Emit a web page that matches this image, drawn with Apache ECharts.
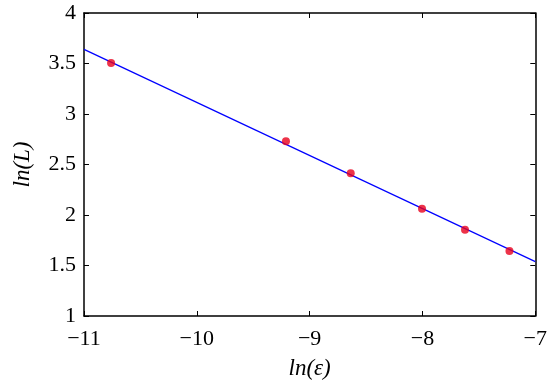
<!DOCTYPE html>
<html><head><meta charset="utf-8">
<script src="https://cdn.jsdelivr.net/npm/echarts@6/dist/echarts.min.js"></script>
<style>html,body{margin:0;padding:0;background:#fff}#c{width:550px;height:387px}</style>
</head><body><div id="c"></div>
<script>
const lnEps = [-10.76, -9.21, -8.636, -8.004, -7.623, -7.229];
const lnL = [3.505, 2.73, 2.413, 2.063, 1.855, 1.644];
const fitX = [-11, -7];
const fitY = [3.64, 1.538];

const chart = echarts.init(document.getElementById('c'));
const font = '"Liberation Serif", "Times New Roman", "DejaVu Serif", serif';
const axisCommon = {
  axisLine: {show: true, onZero: false, lineStyle: {color: '#000', width: 1.5}},
  axisTick: {show: true, inside: true, length: 5, lineStyle: {color: '#000', width: 1}},
  splitLine: {show: false}
};
chart.setOption({
  animation: false,
  textStyle: {fontFamily: font},
  grid: {left: 84, right: 12, top: 13, bottom: 71},
  xAxis: [
    Object.assign({type: 'value', min: -11, max: -7, interval: 1, position: 'bottom',
      name: 'ln(ε)', nameLocation: 'middle', nameGap: 41, nameMoveOverlap: false,
      nameTextStyle: {fontFamily: font, fontStyle: 'italic', fontSize: 23, color: '#000'},
      axisLabel: {fontFamily: font, fontSize: 22, color: '#000', margin: 12,
        formatter: v => (v < 0 ? '\u2212' + Math.abs(v) : String(v))}}, axisCommon),
    Object.assign({type: 'value', min: -11, max: -7, interval: 1, position: 'top',
      axisLabel: {show: false}}, axisCommon)
  ],
  yAxis: [
    Object.assign({type: 'value', min: 1, max: 4, interval: 0.5, position: 'left',
      name: 'ln(L)', nameLocation: 'middle', nameGap: 50, nameMoveOverlap: false,
      nameTextStyle: {fontFamily: font, fontStyle: 'italic', fontSize: 23, color: '#000'},
      axisLabel: {fontFamily: font, fontSize: 22, color: '#000', margin: 8}}, axisCommon),
    Object.assign({type: 'value', min: 1, max: 4, interval: 0.5, position: 'right',
      axisLabel: {show: false}}, axisCommon)
  ],
  series: [
    {type: 'line', data: fitX.map((x, i) => [x, fitY[i]]), symbol: 'none',
      lineStyle: {color: '#0000ff', width: 1.2}, z: 2},
    {type: 'scatter', data: lnEps.map((x, i) => [x, lnL[i]]), symbolSize: 8,
      itemStyle: {color: '#e8001c'}, z: 3}
  ]
});
</script></body></html>
